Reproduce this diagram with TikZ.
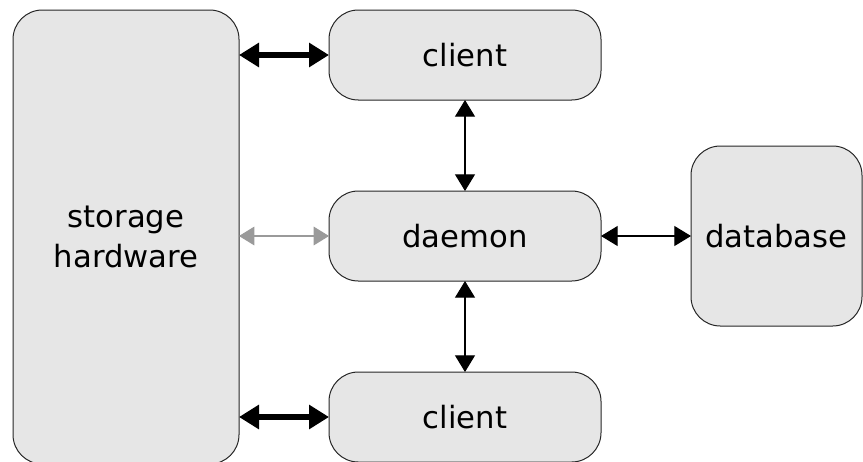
\documentclass[tikz,border=0pt]{standalone}
\usepackage{fontspec}
\setmainfont{DejaVu Sans}
\usetikzlibrary{arrows.meta}
\definecolor{boxfill}{HTML}{E6E6E6}
\definecolor{softline}{HTML}{9A9A9A}
\tikzset{
  block/.style={draw=black!85, fill=boxfill, line width=0.75pt, rounded corners=22pt,
    inner sep=0pt, outer sep=0pt, align=center,
    font=\fontsize{23pt}{30pt}\selectfont},
  fatlink/.style={line width=5.2pt,
    {Triangle[length=15pt,width=17.5pt]}-{Triangle[length=15pt,width=17.5pt]}},
  thinlink/.style={line width=0.8pt,
    {Triangle[length=12.5pt,width=15pt]}-{Triangle[length=12.5pt,width=15pt]}},
  greylink/.style={draw=softline, line width=0.8pt,
    {Triangle[length=11.5pt,width=14pt]}-{Triangle[length=11.5pt,width=14pt]}}
}
\begin{document}
\begin{tikzpicture}[x=0.75pt,y=-0.75pt]
  \useasboundingbox (0,0) rectangle (863,461);

  % boxes
  \node[block, minimum width=226*0.75pt, minimum height=454*0.75pt] (storage) at (126,237) {storage\\hardware};
  \node[block, minimum width=272*0.75pt, minimum height=90*0.75pt] (client1) at (465,55) {client};
  \node[block, minimum width=272*0.75pt, minimum height=90*0.75pt] (daemon) at (465,236) {daemon};
  \node[block, minimum width=272*0.75pt, minimum height=90*0.75pt] (client2) at (465,417) {client};
  \node[block, minimum width=171*0.75pt, minimum height=180*0.75pt] (db) at (776.5,236) {database};

  % connectors
  \draw[fatlink] (storage.east |- client1.west) -- (client1.west);
  \draw[fatlink] (storage.east |- client2.west) -- (client2.west);
  \draw[greylink] (storage.east |- daemon.west) -- (daemon.west);
  \draw[thinlink] (client1.south) -- (daemon.north);
  \draw[thinlink] (daemon.south) -- (client2.north);
  \draw[thinlink] (daemon.east) -- (db.west);
\end{tikzpicture}
\end{document}
